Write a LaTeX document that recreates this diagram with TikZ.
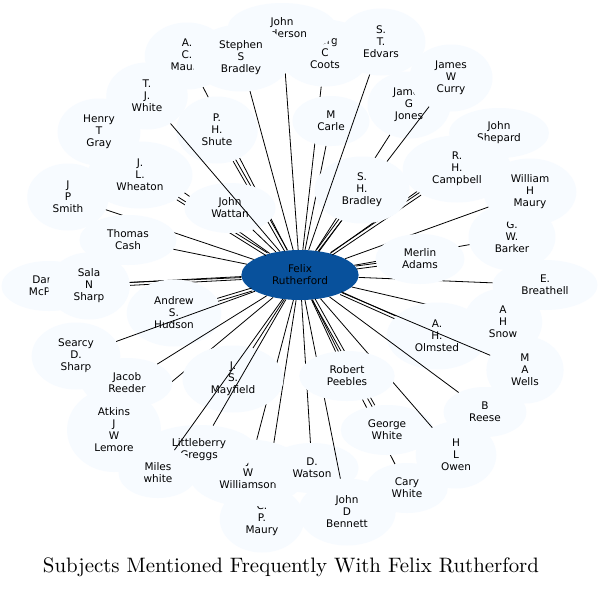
\documentclass[tikz,border=0pt]{standalone}
\usepackage{fontspec}
\usepackage{graphicx}
\usetikzlibrary{shapes.geometric,calc}
\newfontfamily\dv{DejaVu Sans}
\definecolor{nodefill}{HTML}{F7FBFF}
\definecolor{centerfill}{HTML}{08519C}
\tikzset{
 nd/.style={ellipse, fill=nodefill, draw=none, align=center, inner xsep=13.5pt, inner ysep=2pt, font=\dv\fontsize{10.5}{12}\selectfont},
 two/.style={nd, minimum height=50pt},
 three/.style={nd, minimum height=67pt},
 four/.style={nd, minimum height=84pt},
 edge/.style={draw=black, line width=0.8pt},
}
\newcommand\dedge[1]{%
  \path let \p1=($(#1.center)-(c.center)$), \n1={atan2(\y1,\x1)} in \pgfextra{\xdef\dang{\n1}};%
  \begin{scope}[transform canvas={shift={(\dang+90:1.5pt)}}]\draw[edge] (c) -- (#1);\end{scope}%
  \begin{scope}[transform canvas={shift={(\dang-90:1.5pt)}}]\draw[edge] (c) -- (#1);\end{scope}%
}
\begin{document}
\begin{tikzpicture}[x=1pt,y=-1pt]
\fill[white] (0,0) rectangle (600,590);
\useasboundingbox (0,0) rectangle (600,590);
\node[two, fill=centerfill] (c) at (300,275) {Felix\\Rutherford};
\node[three] (coots) at (325,53) {George\\C\\Coots}; \draw[edge] (c) -- (coots);
\node[two] (ander) at (282,28) {John\\Anderson}; \draw[edge] (c) -- (ander);
\node[three] (acm) at (187,56) {A.\\C.\\Maury}; \draw[edge] (c) -- (acm);
\node[three] (ssb) at (241,58) {Stephen\\S\\Bradley}; \draw[edge] (c) -- (ssb);
\node[two] (shep) at (499,133) {John\\Shepard}; \draw[edge] (c) -- (shep);
\node[three] (camp) at (457,169) {R.\\H.\\Campbell}; \dedge{camp}
\node[three] (jones) at (409,105) {James\\G\\Jones}; \draw[edge] (c) -- (jones);
\node[three] (curry) at (451,78) {James\\W\\Curry}; \draw[edge] (c) -- (curry);
\node[two] (carle) at (331,121) {M\\Carle}; \draw[edge] (c) -- (carle);
\node[three] (shb) at (362,190) {S.\\H.\\Bradley}; \dedge{shb}
\node[three] (edv) at (381,42) {S.\\T.\\Edvars}; \draw[edge] (c) -- (edv);
\node[three] (shute) at (217,130) {P.\\H.\\Shute}; \dedge{shute}
\node[three] (gray) at (99,132) {Henry\\T\\Gray}; \draw[edge] (c) -- (gray);
\node[three] (wheat) at (140,175) {J.\\L.\\Wheaton}; \dedge{wheat}
\node[two] (watt) at (230,208) {John\\Wattan}; \draw[edge] (c) -- (watt);
\node[three] (tjw) at (147,96) {T.\\J.\\White}; \draw[edge] (c) -- (tjw);
\node[three] (jps) at (68,197) {J\\P\\Smith}; \draw[edge] (c) -- (jps);
\node[two] (cash) at (128,240) {Thomas\\Cash}; \draw[edge] (c) -- (cash);
\node[two] (mcp) at (49,286) {Daniel\\McPhail}; \draw[edge] (c) -- (mcp);
\node[three] (sala) at (89,286) {Sala\\N\\Sharp}; \dedge{sala}
\node[three] (hud) at (174,313) {Andrew\\S.\\Hudson}; \dedge{hud}
\node[three] (searcy) at (76,356) {Searcy\\D.\\Sharp}; \draw[edge] (c) -- (searcy);
\node[four] (atk) at (114,430) {Atkins\\J\\W\\Lemore}; \draw[edge] (c) -- (atk);
\node[two] (reeder) at (127,383) {Jacob\\Reeder}; \draw[edge] (c) -- (reeder);
\node[three] (cpm) at (262,519) {C.\\P.\\Maury}; \draw[edge] (c) -- (cpm);
\node[three] (will) at (248,473) {J\\W\\Williamson}; \draw[edge] (c) -- (will);
\node[three] (mayf) at (233,379) {J.\\S.\\Mayfield}; \draw[edge] (c) -- (mayf);
\node[two] (litt) at (199,450) {Littleberry\\Greggs}; \draw[edge] (c) -- (litt);
\node[two] (miles) at (158,473) {Miles\\white}; \draw[edge] (c) -- (miles);
\node[two] (watson) at (312,468) {D.\\Watson}; \draw[edge] (c) -- (watson);
\node[three] (benn) at (347,512) {John\\D\\Bennett}; \draw[edge] (c) -- (benn);
\node[two] (cary) at (407,488) {Cary\\White}; \draw[edge] (c) -- (cary);
\node[two] (gw) at (387,430) {George\\White}; \dedge{gw}
\node[three] (owen) at (456,455) {H\\L\\Owen}; \draw[edge] (c) -- (owen);
\node[two] (peeb) at (347,376) {Robert\\Peebles}; \draw[edge] (c) -- (peeb);
\node[three] (snow) at (503,322) {A\\H\\Snow}; \draw[edge] (c) -- (snow);
\node[three] (olm) at (437,336) {A.\\H.\\Olmsted}; \dedge{olm}
\node[two] (reese) at (485,412) {B\\Reese}; \draw[edge] (c) -- (reese);
\node[three] (wells) at (525,370) {M\\A\\Wells}; \draw[edge] (c) -- (wells);
\node[two] (breat) at (545,285) {E.\\Breathell}; \draw[edge] (c) -- (breat);
\node[three] (barker) at (512,237) {G.\\W.\\Barker}; \draw[edge] (c) -- (barker);
\node[three] (whm) at (530,192) {William\\H\\Maury}; \draw[edge] (c) -- (whm);
\node[two] (merlin) at (420,259) {Merlin\\Adams}; \dedge{merlin}
\node[inner sep=0pt] (title) at (291,567) {\resizebox{496pt}{!}{Subjects Mentioned Frequently With Felix Rutherford}};
\end{tikzpicture}
\end{document}
